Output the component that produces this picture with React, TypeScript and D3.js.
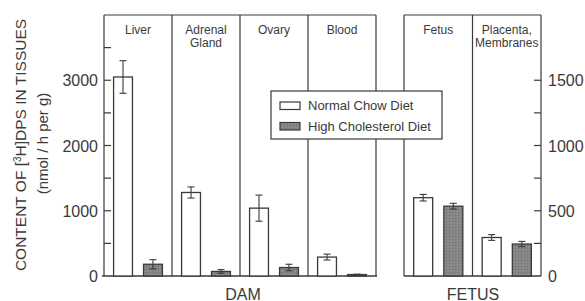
import * as d3 from "d3";

// tissue panels (label lines) and values
const damTissues = [["Liver"], ["Adrenal", "Gland"], ["Ovary"], ["Blood"]];
const damNormal = [3050, 1280, 1040, 290];
const damNormalErr = [250, 85, 200, 45];
const damHigh = [180, 70, 130, 22];
const damHighErr = [70, 28, 50, 6];

const fetusTissues = [["Fetus"], ["Placenta,", "Membranes"]];
const fetusNormal = [600, 295];
const fetusNormalErr = [25, 22];
const fetusHigh = [535, 245];
const fetusHighErr = [22, 20];

const diets = ["Normal Chow Diet", "High Cholesterol Diet"];
const leftTicks = [0, 1000, 2000, 3000];
const rightTicks = [0, 500, 1000, 1500];

const W = 585;
const H = 301;
const top = 15;
const base = 276;
const ink = "#3a3a3a";
const font = "'Liberation Sans', Arial, sans-serif";

const yL = d3.scaleLinear().domain([0, 4000]).range([base, top]);
const yR = d3.scaleLinear().domain([0, 2000]).range([base, top]);

const damX = d3.scaleBand().domain(damTissues.map((d) => d.join(" "))).range([104, 376]);
const fetusX = d3.scaleBand().domain(fetusTissues.map((d) => d.join(" "))).range([404, 541]);

function barBand(x0: number, x1: number) {
  return d3.scaleBand().domain(["n", "h"]).range([x0, x1]).paddingInner(0.37).paddingOuter(0.32);
}

function Panel({ labels, xs, y, normal, normalErr, high, highErr }: any) {
  return (
    <g>
      {labels.map((lines: string[], i: number) => {
        const key = lines.join(" ");
        const x0 = xs(key);
        const bb = barBand(x0, x0 + xs.bandwidth());
        const bars = [
          { k: "n", v: normal[i], e: normalErr[i] },
          { k: "h", v: high[i], e: highErr[i] },
        ];
        return (
          <g key={key}>
            <line x1={x0 + xs.bandwidth()} x2={x0 + xs.bandwidth()} y1={top} y2={base} stroke={ink} strokeWidth={1.2} />
            {lines.map((t, j) => (
              <text key={t} x={x0 + xs.bandwidth() / 2} y={33.5 + j * 13.5} textAnchor="middle" fontSize={12} fill={ink} fontFamily={font}>
                {t}
              </text>
            ))}
            {bars.map((b) => {
              const bx = bb(b.k)!;
              const cx = bx + bb.bandwidth() / 2;
              return (
                <g key={b.k}>
                  <rect x={bx} y={y(b.v)} width={bb.bandwidth()} height={base - y(b.v)}
                    fill={b.k === "n" ? "#fff" : "url(#stipple)"} stroke={ink} strokeWidth={1.3} />
                  <line x1={cx} x2={cx} y1={y(b.v + b.e)} y2={y(b.v - b.e)} stroke={ink} strokeWidth={1.1} />
                  <line x1={cx - 3.5} x2={cx + 3.5} y1={y(b.v + b.e)} y2={y(b.v + b.e)} stroke={ink} strokeWidth={1.1} />
                  <line x1={cx - 3.5} x2={cx + 3.5} y1={y(b.v - b.e)} y2={y(b.v - b.e)} stroke={ink} strokeWidth={1.1} />
                </g>
              );
            })}
          </g>
        );
      })}
    </g>
  );
}

export default function App() {
  const leftMinor = d3.range(500, 4000, 500);
  const rightMinor = d3.range(250, 1750, 250);
  return (
    <svg width={W} height={H} style={{ position: "absolute", left: 0, top: 0, background: "#fff" }}>
      <defs>
        <pattern id="stipple" width={3} height={3} patternUnits="userSpaceOnUse">
          <rect width={3} height={3} fill="#7e7e7e" />
          <circle cx={1} cy={1} r={0.7} fill="#a9a9a9" />
        </pattern>
      </defs>

      {/* DAM frame */}
      <line x1={104} x2={376} y1={top} y2={top} stroke={ink} strokeWidth={1.2} />
      <line x1={104} x2={104} y1={top} y2={base} stroke={ink} strokeWidth={1.2} />
      <line x1={102} x2={377} y1={base} y2={base} stroke={ink} strokeWidth={1.3} />
      {leftMinor.map((t) => (
        <line key={t} x1={104} x2={111} y1={yL(t)} y2={yL(t)} stroke={ink} strokeWidth={1.2} />
      ))}
      {leftTicks.map((t) => (
        <text key={t} x={98} y={yL(t) + 6} textAnchor="end" fontSize={16} fill={ink} fontFamily={font}>
          {t}
        </text>
      ))}
      <Panel labels={damTissues} xs={damX} y={yL} normal={damNormal} normalErr={damNormalErr} high={damHigh} highErr={damHighErr} />

      {/* FETUS frame */}
      <line x1={404} x2={541} y1={top} y2={top} stroke={ink} strokeWidth={1.2} />
      <line x1={404} x2={404} y1={top} y2={base} stroke={ink} strokeWidth={1.2} />
      <line x1={404} x2={541} y1={base} y2={base} stroke={ink} strokeWidth={1.3} />
      {rightMinor.map((t) => (
        <line key={t} x1={534} x2={541} y1={yR(t)} y2={yR(t)} stroke={ink} strokeWidth={1.2} />
      ))}
      {rightTicks.map((t) => (
        <text key={t} x={548} y={yR(t) + 6} textAnchor="start" fontSize={16} fill={ink} fontFamily={font}>
          {t}
        </text>
      ))}
      <Panel labels={fetusTissues} xs={fetusX} y={yR} normal={fetusNormal} normalErr={fetusNormalErr} high={fetusHigh} highErr={fetusHighErr} />

      {/* legend */}
      <rect x={271} y={91} width={171} height={48} fill="#fff" stroke={ink} strokeWidth={1.2} />
      {diets.map((d, i) => (
        <g key={d}>
          <rect x={280} y={102 + i * 20.5} width={20} height={7.5} fill={i === 0 ? "#fff" : "url(#stipple)"} stroke={ink} strokeWidth={1.2} />
          <text x={308} y={110 + i * 20.5} fontSize={13} fill={ink} fontFamily={font}>
            {d}
          </text>
        </g>
      ))}

      {/* axis titles */}
      <text x={243} y={299.5} textAnchor="middle" fontSize={16} fill={ink} fontFamily={font}>DAM</text>
      <text x={473} y={299.5} textAnchor="middle" fontSize={16} fill={ink} fontFamily={font}>FETUS</text>
      <text transform="translate(26,145) rotate(-90)" textAnchor="middle" fontSize={15.5} fill={ink} fontFamily={font}>
        CONTENT OF [<tspan dy={-5} fontSize={10}>3</tspan><tspan dy={5}>H]DPS IN TISSUES</tspan>
      </text>
      <text transform="translate(48,143.5) rotate(-90)" textAnchor="middle" fontSize={15} fill={ink} fontFamily={font}>
        (nmol / h per g)
      </text>
    </svg>
  );
}
